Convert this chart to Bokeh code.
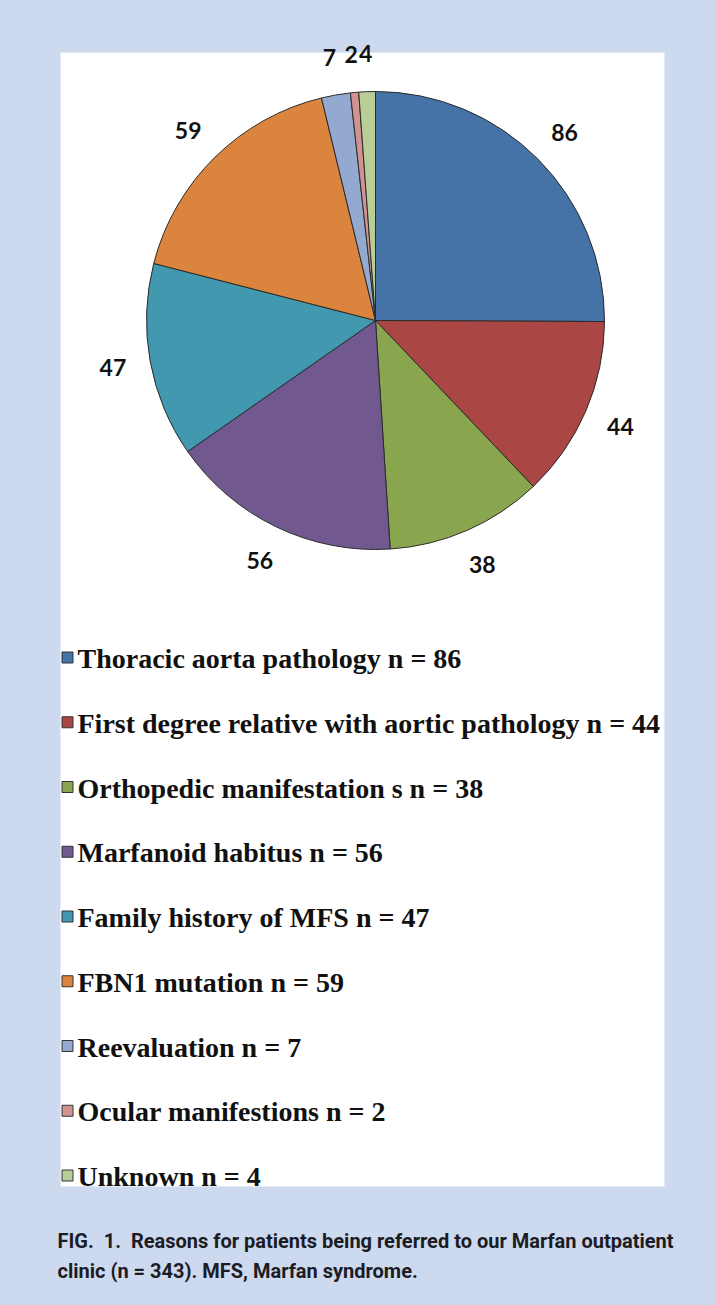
import math
from bokeh.plotting import figure
from bokeh.models import Range1d, ColumnDataSource
from bokeh.core.properties import value
from bokeh.embed import file_html
from bokeh.resources import INLINE

categories = ["Thoracic aorta pathology", "First degree relative with aortic pathology",
              "Orthopedic manifestations", "Marfanoid habitus", "Family history of MFS",
              "FBN1 mutation", "Reevaluation", "Ocular manifestions", "Unknown"]
legend_labels = ["Thoracic aorta pathology n = 86", "First degree relative with aortic pathology n = 44",
                 "Orthopedic manifestation s n = 38", "Marfanoid habitus n = 56",
                 "Family history of MFS n = 47", "FBN1 mutation n = 59", "Reevaluation n = 7",
                 "Ocular manifestions n = 2", "Unknown n = 4"]
counts = [86, 44, 38, 56, 47, 59, 7, 2, 4]
colors = ["#4572A7", "#AA4643", "#89A54E", "#71588F", "#4198AF", "#DB843D", "#93A9CF", "#D19392", "#B9CD96"]
caption_lines = ["FIG.\u00a0\u00a01.\u00a0\u00a0Reasons for patients being referred to our Marfan outpatient",
                 "clinic (n = 343). MFS, Marfan syndrome."]

BG = "#CDD9EF"
W, H = 700, 1289
p = figure(width=W, height=H, output_backend="svg", toolbar_location=None,
           x_range=Range1d(0, W), y_range=Range1d(-H, 0),
           min_border=0, outline_line_color=None)
p.axis.visible = False
p.grid.visible = False
p.background_fill_color = BG
p.border_fill_color = BG

# white panel
p.quad(left=60, right=664, top=-52, bottom=-1186, fill_color="white", line_color=None)

# pie
cx, cy, r = 375, -320, 229
total = sum(counts)
starts, ends, lx, ly, labs = [], [], [], [], []
cum = 0
for c in counts:
    a0 = math.pi / 2 - 2 * math.pi * cum / total
    a1 = math.pi / 2 - 2 * math.pi * (cum + c) / total
    starts.append(a0)
    ends.append(a1)
    mid = (a0 + a1) / 2
    lr = r * 1.165
    lx.append(cx + lr * math.cos(mid))
    ly.append(cy + lr * math.sin(mid))
    labs.append(str(c))
    cum += c

src = ColumnDataSource(dict(start=starts, end=ends, color=colors))
p.wedge(x=cx, y=cy, radius=r, start_angle="start", end_angle="end", direction="clock",
        fill_color="color", line_color="#2b2b2b", line_width=1, source=src)

p.text(x=lx, y=ly, text=labs, text_font=value("Lato"), text_font_style="bold",
       text_font_size="23px", text_align="center", text_baseline="middle", text_color="#111111")

# legend
ys = [-(657 + i * 64.75) for i in range(len(categories))]
p.rect(x=[67] * len(categories), y=ys, width=11, height=11, fill_color=colors,
       line_color="#333333", line_width=1)
p.text(x=[77] * len(categories), y=[y - 1 for y in ys], text=legend_labels,
       text_font=value("Liberation Serif"), text_font_style="bold", text_font_size="28px",
       text_align="left", text_baseline="middle", text_color="#111111")

# caption
p.text(x=[57, 57], y=[-1240, -1270], text=caption_lines, text_font=value("Roboto"),
       text_font_style="bold", text_font_size="20px", text_align="left",
       text_baseline="middle", text_color="#1c1c24")

html = file_html(p, INLINE)
html = html.replace("<head>", "<head><style>html,body{background:%s;}</style>" % BG, 1)
open("out.html", "w").write(html)
